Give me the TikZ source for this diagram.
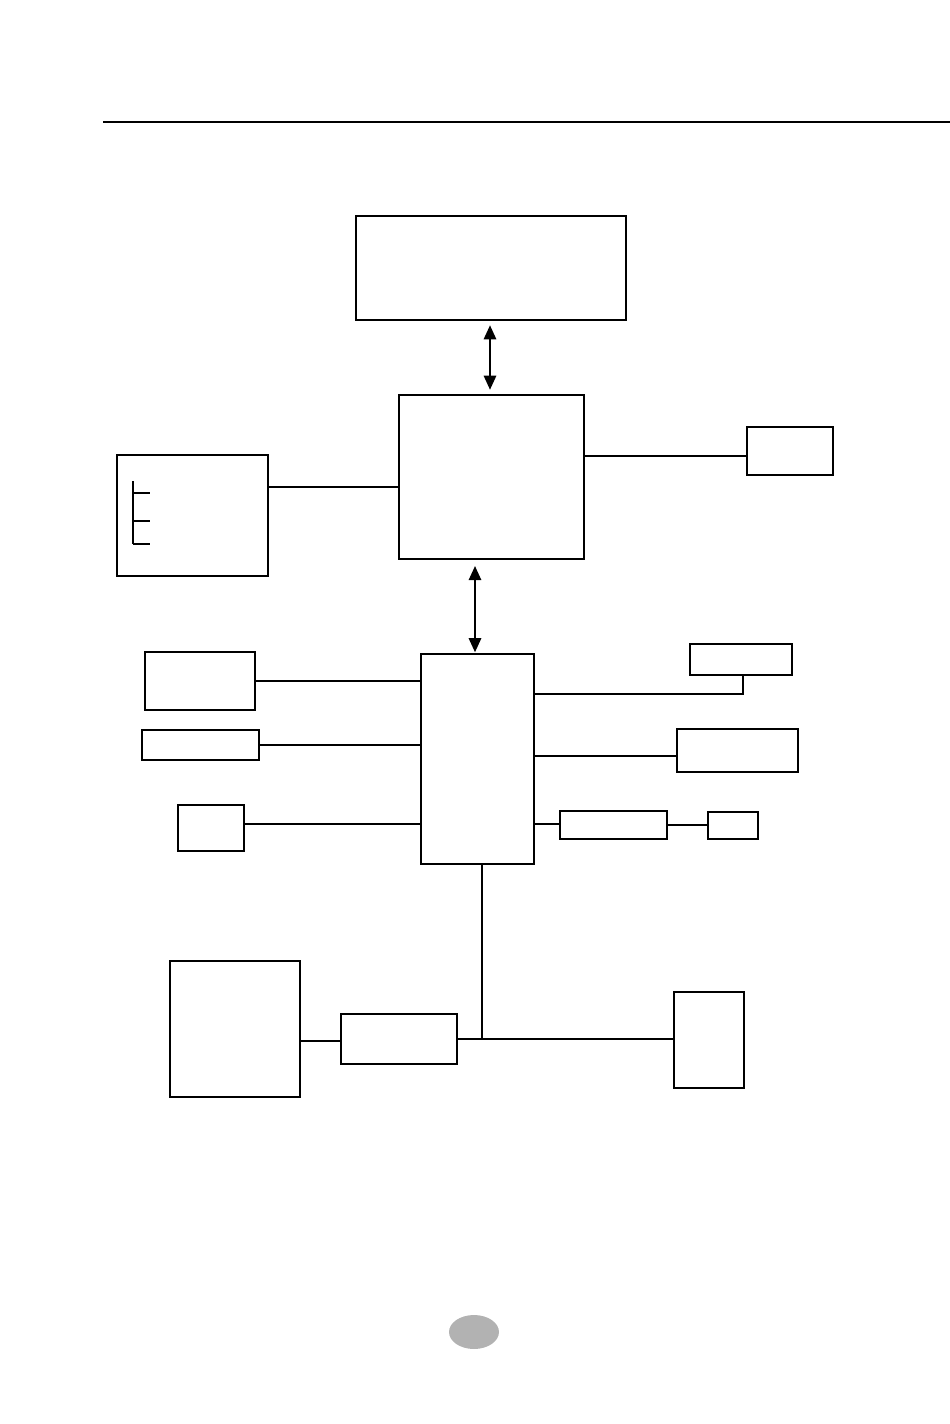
\documentclass[tikz,border=0pt]{standalone}
\usepackage{tikz}
\usetikzlibrary{arrows.meta,shapes.geometric}

\tikzset{
  blk/.style={draw,line width=1.1pt,inner sep=0pt,outer sep=0pt},
  wire/.style={line width=1.1pt},
  bus/.style={line width=1.1pt,{Triangle[length=8pt,width=7pt]}-{Triangle[length=8pt,width=7pt]}}
}

\begin{document}
\begin{tikzpicture}[x=0.02cm,y=-0.02cm]
			\useasboundingbox (0,0) rectangle (950,1424);
			
			% page header rule
			\coordinate (hl) at (103,122);
			\coordinate (hr) at (950,122);
			\draw[line width=1.6pt] (hl)--(hr);
			
			% upper blocks
			\node[blk,minimum width=5.4cm,minimum height=2.08cm] (top) at (491,268) {};
			\node[blk,minimum width=3.7cm,minimum height=3.28cm] (north) at (491.5,477) {};
			\node[blk,minimum width=3.02cm,minimum height=2.42cm] (lbox) at (192.5,515.5) {};
			\node[blk,minimum width=1.72cm,minimum height=0.96cm] (rsmall) at (790,451) {};
			
			% small tree inside lbox
			\coordinate (t0) at (133,481);
			\coordinate (t1) at (133,493);
			\coordinate (t2) at (133,521);
			\coordinate (t3) at (133,544);
			\draw[wire] (t0)--(t3);
			\foreach \t in {t1,t2,t3}
			\draw[wire] (\t)--++(17,0);
			
			% middle blocks
			\node[blk,minimum width=2.26cm,minimum height=4.2cm] (south) at (477.5,759) {};
			\node[blk,minimum width=2.2cm,minimum height=1.16cm] (l1) at (200,681) {};
			\node[blk,minimum width=2.34cm,minimum height=0.6cm] (l2) at (200.5,745) {};
			\node[blk,minimum width=1.32cm,minimum height=0.92cm] (l3) at (211,828) {};
			\node[blk,minimum width=2.04cm,minimum height=0.62cm] (r1) at (741,659.5) {};
			\node[blk,minimum width=2.42cm,minimum height=0.86cm] (r2) at (737.5,750.5) {};
			\node[blk,minimum width=2.14cm,minimum height=0.56cm] (r3a) at (613.5,825) {};
			\node[blk,minimum width=1.0cm,minimum height=0.54cm] (r3b) at (733,825.5) {};
			
			% lower blocks
			\node[blk,minimum width=2.6cm,minimum height=2.72cm] (bl) at (235,1029) {};
			\node[blk,minimum width=2.32cm,minimum height=1.0cm] (bm) at (399,1039) {};
			\node[blk,minimum width=1.4cm,minimum height=1.92cm] (br) at (709,1040) {};
			
			% buses
			\draw[bus,shorten <=3pt,shorten >=3pt] (top.south-|490,0)--(north.north-|490,0);
			\draw[bus,shorten <=4pt,shorten >=1pt] (north.south-|475,0)--(south.north-|475,0);
			
			% links
			\draw[wire] (lbox.east|-0,487)--(north.west|-0,487);
			\draw[wire] (north.east|-0,456)--(rsmall.west|-0,456);
			\draw[wire] (l1.east)--(south.west|-l1.east);
			\draw[wire] (l2.east)--(south.west|-l2.east);
			\draw[wire] (l3.east|-0,824)--(south.west|-0,824);
			\draw[wire] (south.east|-0,694)-|(r1.south-|743,0);
			\draw[wire] (south.east|-0,756)--(r2.west|-0,756);
			\draw[wire] (south.east|-0,824)--(r3a.west|-0,824);
			\draw[wire] (r3a.east)--(r3b.west|-r3a.east);
			\draw[wire] (south.south-|482,0)--(482,1039);
			\draw[wire] (bm.east)--(br.west|-bm.east);
			\draw[wire] (bl.east|-0,1041)--(bm.west|-0,1041);
			
			% page mark
			\node[ellipse,fill=black!30,minimum width=1cm,minimum height=0.68cm,inner sep=0pt] (pg) at (474,1332) {};
		\end{tikzpicture}
\end{document}
